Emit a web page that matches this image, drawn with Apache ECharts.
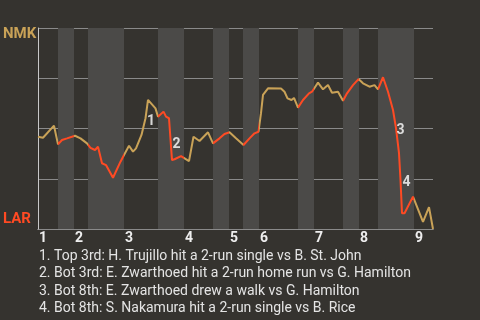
<!DOCTYPE html>
<html><head><meta charset="utf-8">
<script src="https://cdn.jsdelivr.net/npm/echarts@6/dist/echarts.min.js"></script>
<style>html,body{margin:0;padding:0;background:#35332f}#c{width:480px;height:320px}</style>
</head><body><div id="c"></div>
<script>
const awayTeam = 'NMK';
const homeTeam = 'LAR';
// game progress (play sequence position) and win probability for NMK
const playX = [0,5,16,20,24,29,37,42.5,49,52.5,57,60,64,68,75,82.5,86,91,95,98,103.5,107.5,110,117.5,120,122,125.5,128,131,134,136.5,143,145,151,155.5,161.5,170,175,181.5,186.5,191.5,198,205.5,211.5,216.5,220.5,223,225,230,243,246.5,249.5,253.5,256,260,265,271,274,280,285,290,294,300,305,309,315,320.5,325,331.5,336.5,340,345,350,355,358,361,362.5,364,366.5,375,385,391,395];
const winProb = [0.459,0.454,0.514,0.421,0.443,0.451,0.464,0.451,0.426,0.404,0.393,0.409,0.327,0.318,0.255,0.335,0.368,0.414,0.385,0.401,0.468,0.551,0.642,0.600,0.559,0.567,0.584,0.559,0.551,0.343,0.347,0.363,0.368,0.338,0.459,0.438,0.481,0.426,0.451,0.473,0.481,0.451,0.418,0.451,0.476,0.484,0.576,0.667,0.700,0.699,0.683,0.650,0.642,0.652,0.604,0.642,0.675,0.683,0.728,0.695,0.716,0.678,0.683,0.638,0.675,0.716,0.746,0.725,0.708,0.716,0.695,0.755,0.683,0.592,0.502,0.377,0.244,0.078,0.078,0.161,0.035,0.109,0.0];
// bottom half-innings (shaded)
const bottomHalves = [[20,36],[50,86],[120,146],[175,191],[205,221],[260,276],[305,321],[340,376]];
const inningStarts = [0,36,86,146,191,221,276,321,376];
const inningLabels = ['1','2','3','4','5','6','7','8','9'];
const eventX = [107.5,133,357,363];
const eventY = [0.537,0.420,0.488,0.231];
const eventText = [
  'Top 3rd: H. Trujillo hit a 2-run single vs B. St. John',
  'Bot 3rd: E. Zwarthoed hit a 2-run home run vs G. Hamilton',
  'Bot 8th: E. Zwarthoed drew a walk vs G. Hamilton',
  'Bot 8th: S. Nakamura hit a 2-run single vs B. Rice'
];
const TAN = '#c9a257', RED = '#ff4a23';
const chart = echarts.init(document.getElementById('c'));
const lineData = playX.map((x,i)=>[x,winProb[i]]);
const graphics = [
  {type:'text',left:3,top:27,style:{text:awayTeam,fill:TAN,font:'bold 15px Roboto'}},
  {type:'text',left:3,top:212,style:{text:homeTeam,fill:RED,font:'bold 15px Roboto'}}
];
eventText.forEach((t,i)=>{
  graphics.push({type:'text',left:39,top:249+i*17.5,style:{text:(i+1)+'. '+t,fill:'#e4e4e4',font:'14px Roboto'}});
});
chart.setOption({
  backgroundColor:'#35332f',
  animation:false,
  grid:{left:38,top:28,width:395,height:201},
  xAxis:{type:'value',min:0,max:395,
    axisLine:{show:true,lineStyle:{color:'#c8c8c8',width:1}},
    axisTick:{show:false},splitLine:{show:false},
    axisLabel:{customValues:inningStarts,formatter:v=>inningLabels[inningStarts.indexOf(v)],
      align:'left',margin:2,color:'#eeeeee',fontWeight:'bold',fontSize:14,fontFamily:'Roboto',padding:[0,0,0,1]}},
  yAxis:{type:'value',min:0,max:1,interval:0.25,z:1,
    axisLine:{show:true,lineStyle:{color:'#c8c8c8',width:1}},
    axisTick:{show:false},axisLabel:{show:false},
    splitLine:{show:true,lineStyle:{color:'#8a8a8a',width:1}}},
  visualMap:{show:false,type:'piecewise',seriesIndex:1,dimension:0,
    pieces:bottomHalves.map(b=>({gte:b[0],lt:b[1],color:RED})),
    outOfRange:{color:TAN}},
  graphic:graphics,
  series:[
    {type:'line',z:0,data:[[0,0]],symbol:'none',lineStyle:{opacity:0},silent:true,
      markArea:{silent:true,itemStyle:{color:'#4b4a48'},
        data:bottomHalves.map(b=>[{xAxis:b[0]},{xAxis:b[1]}])}},
    {type:'line',z:2,data:lineData,symbol:'none',lineStyle:{width:2},silent:true},
    {type:'scatter',z:3,data:eventX.map((x,i)=>[x,eventY[i]]),symbolSize:1,itemStyle:{color:'rgba(0,0,0,0)'},silent:true,
      label:{show:true,position:'right',distance:1,formatter:p=>String(p.dataIndex+1),
        color:'#ffffff',fontWeight:'bold',fontSize:14,fontFamily:'Roboto'}}
  ]
});
</script></body></html>
